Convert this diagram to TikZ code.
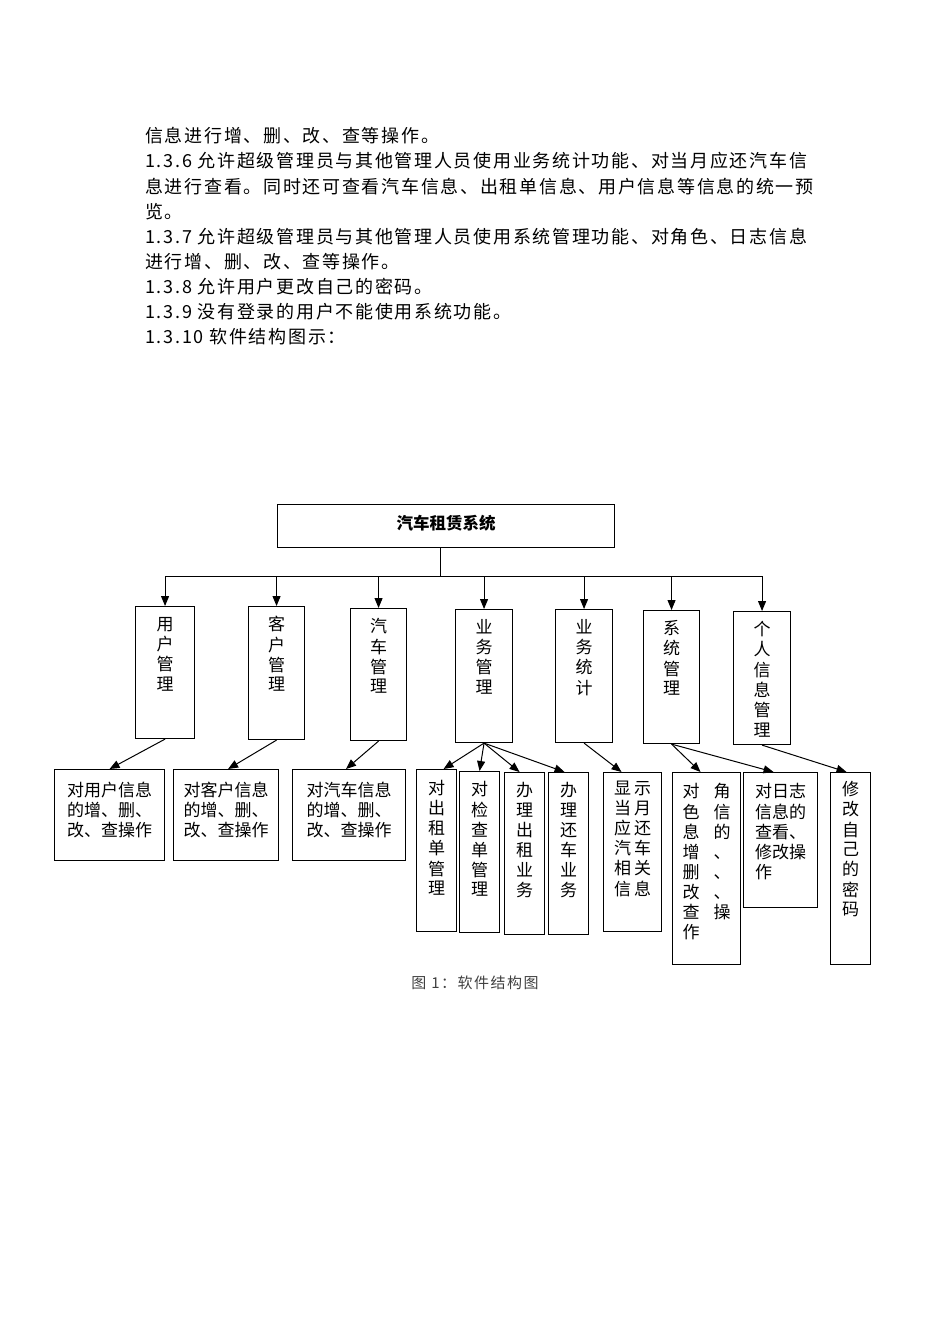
\documentclass[tikz,border=0pt]{standalone}
\usepackage{fontspec}
\setmainfont{Noto Sans CJK SC}
\newfontfamily\bodyfont[LetterSpace=9.5]{Noto Sans CJK SC}
\newfontfamily\capfont[LetterSpace=10]{Noto Sans CJK SC}
\usetikzlibrary{arrows.meta}

% box text: width, height, top gap, column spec, rows
\newcommand{\inbox}[5]{\parbox[c][#2][t]{#1}{\vspace*{#3}\centering
  \begin{tabular}{@{}#4@{}}#5\end{tabular}}}

\tikzset{
  box/.style={draw, line width=1.1pt, inner sep=0pt, anchor=north west,
    font=\fontsize{17}{19.5}\selectfont},
  arr/.style={-{Triangle[length=10pt,width=8pt]}, line width=1pt},
  para/.style={anchor=base west, inner sep=0pt,
    font=\bodyfont\fontsize{18}{25}\selectfont},
}

\begin{document}
\begin{tikzpicture}[x=1pt, y=-1pt]
\useasboundingbox (0,0) rectangle (950,1344);

% text above the chart
\node[para] (t1) at (145,142) {信息进行增、删、改、查等操作。};
\node[para] (t2) at (145,167) {1.3.6 允许超级管理员与其他管理人员使用业务统计功能、对当月应还汽车信};
\node[para] (t3) at (145,193) {息进行查看。同时还可查看汽车信息、出租单信息、用户信息等信息的统一预};
\node[para] (t4) at (145,218) {览。};
\node[para] (t5) at (145,243) {1.3.7 允许超级管理员与其他管理人员使用系统管理功能、对角色、日志信息};
\node[para] (t6) at (145,268) {进行增、删、改、查等操作。};
\node[para] (t7) at (145,293) {1.3.8 允许用户更改自己的密码。};
\node[para] (t8) at (145,318) {1.3.9 没有登录的用户不能使用系统功能。};
\node[para] (t9) at (145,343) {1.3.10 软件结构图示：};

% root
\node[box, font=\fontsize{16.5}{19.5}\selectfont\bfseries] (title) at (277,504)
  {\inbox{337pt}{43pt}{10.5pt}{c}{汽车租赁系统}};

% second level
\node[box] (yhgl) at (135,606) {\inbox{59pt}{132pt}{10pt}{c}{用\\户\\管\\理}};
\node[box] (khgl) at (248,606) {\inbox{56pt}{133pt}{10pt}{c}{客\\户\\管\\理}};
\node[box] (qcgl) at (350,608) {\inbox{56pt}{132pt}{10pt}{c}{汽\\车\\管\\理}};
\node[box] (ywgl) at (455,609) {\inbox{57pt}{133pt}{10pt}{c}{业\\务\\管\\理}};
\node[box] (ywtj) at (555,609) {\inbox{57pt}{133pt}{10pt}{c}{业\\务\\统\\计}};
\node[box] (xtgl) at (643,610) {\inbox{56pt}{133pt}{10pt}{c}{系\\统\\管\\理}};
\node[box] (grxx) at (733,611) {\inbox{57pt}{133pt}{10pt}{c}{个\\人\\信\\息\\管\\理}};

% third level
\node[box] (yhxx) at (54,769) {\inbox{110pt}{91pt}{12pt}{c}{对用户信息\\的增、删、\\改、查操作}};
\node[box] (khxx) at (173,769) {\inbox{105pt}{91pt}{12pt}{c}{对客户信息\\的增、删、\\改、查操作}};
\node[box] (qcxx) at (292,769) {\inbox{113pt}{91pt}{12pt}{c}{对汽车信息\\的增、删、\\改、查操作}};
\node[box] (czd) at (416,769) {\inbox{40pt}{162pt}{11pt}{c}{对\\出\\租\\单\\管\\理}};
\node[box] (jcd) at (459,771) {\inbox{40pt}{161pt}{10pt}{c}{对\\检\\查\\单\\管\\理}};
\node[box] (blcz) at (504,772) {\inbox{40pt}{162pt}{10pt}{c}{办\\理\\出\\租\\业\\务}};
\node[box] (blhc) at (548,772) {\inbox{40pt}{162pt}{10pt}{c}{办\\理\\还\\车\\业\\务}};
\node[box] (xshc) at (603,772) {\inbox{58pt}{159pt}{8pt}{p{37pt}}{显\hfill 示\\当\hfill 月\\应\hfill 还\\汽\hfill 车\\相\hfill 关\\信\hfill 息}};
\node[box] (jsxx) at (672,772) {\inbox{68pt}{192pt}{11pt}{p{48pt}}{对\hfill 角\\色\hfill 信\\息\hfill 的\\增\hfill 、\\删\hfill 、\\改\hfill 、\\查\hfill 操\\作}};
\node[box] (rzxx) at (743,772) {\inbox{74pt}{135pt}{11pt}{l}{对日志\\信息的\\查看、\\修改操\\作}};
\node[box] (xgmm) at (830,772) {\inbox{40pt}{192pt}{9pt}{c}{修\\改\\自\\己\\的\\密\\码}};

% root to second level
\coordinate (bus) at (440,576);
\draw[line width=1pt] (bus |- title.south) -- (bus);
\draw[line width=1pt] (yhgl.north |- bus) -- (grxx.north |- bus);
\foreach \n in {yhgl,khgl,qcgl,ywgl,ywtj,xtgl,grxx}
  \draw[arr] (\n.north |- bus) -- (\n.north);

% second level to third level
\draw[arr] (yhgl.south) -- (yhxx.north);
\draw[arr] (khgl.south) -- ([xshift=2pt]khxx.north);
\draw[arr] (qcgl.south) -- ([xshift=-3pt]qcxx.north);
\draw[arr] (ywgl.south) -- ([xshift=7pt]czd.north);
\draw[arr] (ywgl.south) -- (jcd.north);
\draw[arr] (ywgl.south) -- ([xshift=-5pt]blcz.north);
\draw[arr] (ywgl.south) -- ([xshift=-4pt]blhc.north);
\draw[arr] (ywtj.south) -- ([xshift=-11pt]xshc.north);
\draw[arr] (xtgl.south) -- ([xshift=-6pt]jsxx.north);
\draw[arr] (xtgl.south) -- ([xshift=-7pt]rzxx.north);
\draw[arr] (grxx.south) -- ([xshift=-4pt]xgmm.north);

% caption
\node[font=\capfont\fontsize{15}{18}\selectfont, text=black!75, inner sep=0pt] (cap) at (475,983) {图 1：软件结构图};
\end{tikzpicture}
\end{document}
